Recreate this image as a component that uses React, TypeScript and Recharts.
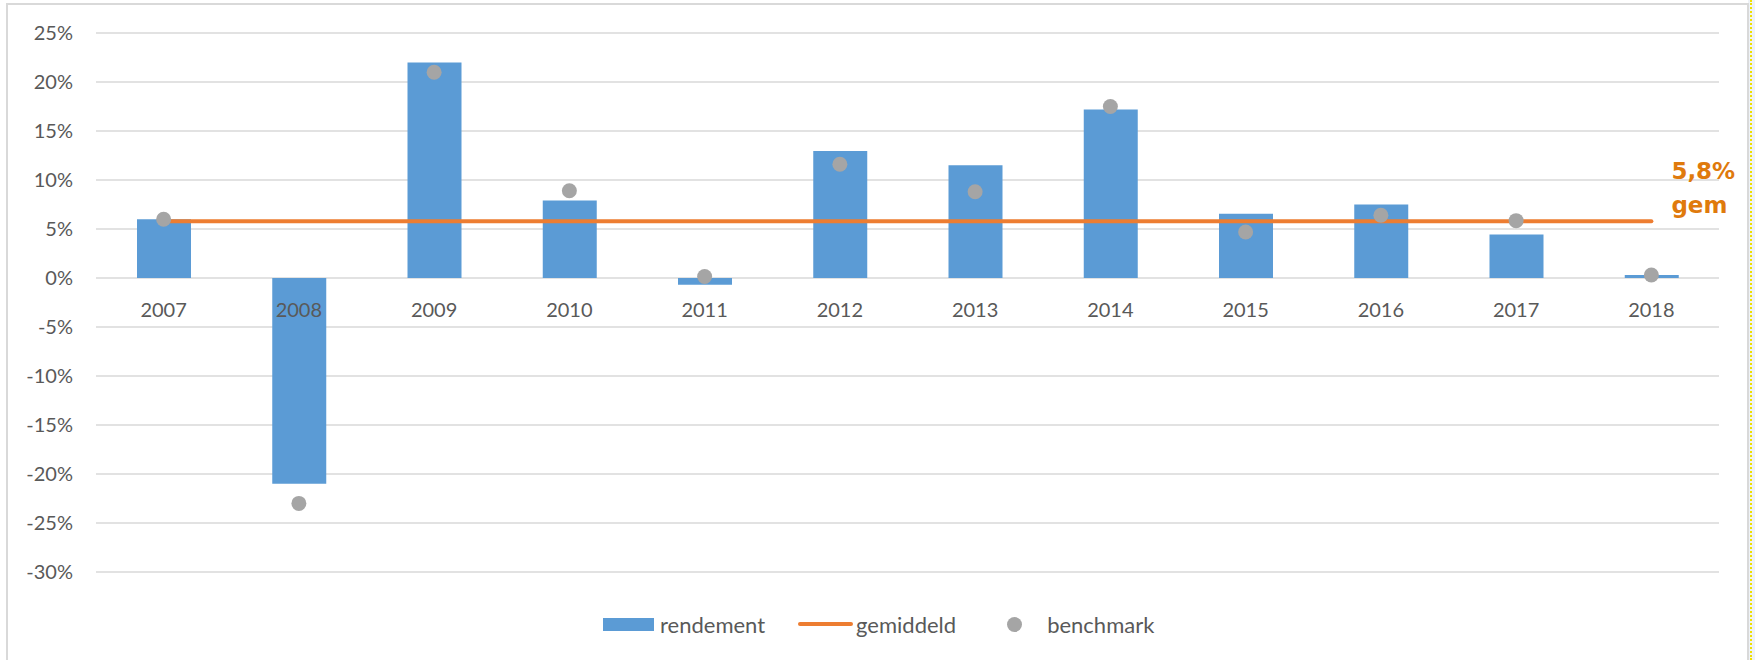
import { ComposedChart, Bar, Line, XAxis, YAxis, CartesianGrid, Legend, LabelList } from 'recharts'

// values (percent)
const years = ['2007', '2008', '2009', '2010', '2011', '2012', '2013', '2014', '2015', '2016', '2017', '2018']
const rendement = [6.0, -21.0, 22.0, 7.9, -0.7, 12.95, 11.5, 17.2, 6.55, 7.5, 4.45, 0.3]
const benchmark = [6.0, -23.0, 21.0, 8.9, 0.15, 11.6, 8.8, 17.5, 4.7, 6.4, 5.85, 0.3]
const gemiddeld = [5.8, 5.8, 5.8, 5.8, 5.8, 5.8, 5.8, 5.8, 5.8, 5.8, 5.8, 5.8]
const yTicks = [-30, -25, -20, -15, -10, -5, 0, 5, 10, 15, 20, 25]
const averageLabel = ['5,8%', 'gem']

const Y_MIN = -30
const Y_MAX = 25
const WIDTH = 1755
const HEIGHT = 660
const X_AXIS_H = 30
const MARGIN = { top: 33, right: 36, bottom: 88 - X_AXIS_H, left: 0 }
const PLOT_H = HEIGHT - MARGIN.top - MARGIN.bottom - X_AXIS_H

const FONT = 'Lato, "Open Sans", sans-serif'
const TEXT = '#595959'
const BLUE = '#5B9BD5'
const ORANGE = '#ED7D31'
const GRAY = '#A5A5A5'

const data = years.map((year, i) => ({
  year,
  rendement: rendement[i],
  benchmark: benchmark[i],
  gemiddeld: gemiddeld[i],
}))

// Excel puts the category labels just under the 0% line, not at the bottom
const zeroFromBottom = (PLOT_H * (0 - Y_MIN)) / (Y_MAX - Y_MIN)

const renderYearTick = (props: any) => {
  const { x, y, payload } = props
  return (
    <text x={x} y={y - zeroFromBottom + 39} textAnchor="middle" fill={TEXT} fontSize={20} fontFamily={FONT}>
      {payload.value}
    </text>
  )
}

const AverageLabel = (props: any) => {
  const { x, y, index } = props
  if (index !== years.length - 1) return null
  return (
    <text fill="#DF7A0C" fontSize={23} fontWeight={700} fontFamily='"DejaVu Sans", sans-serif'>
      <tspan x={x + 20} y={y - 42}>{averageLabel[0]}</tspan>
      <tspan x={x + 20} y={y - 8}>{averageLabel[1]}</tspan>
    </text>
  )
}

const LegendContent = () => (
  <div style={{ display: 'flex', alignItems: 'center', fontFamily: FONT, fontSize: 22, color: TEXT, height: 24 }}>
    <span style={{ width: 51, height: 13, background: BLUE, marginRight: 6 }} />
    <span>rendement</span>
    <span style={{ width: 55, height: 4, borderRadius: 2, background: ORANGE, marginLeft: 33, marginRight: 3 }} />
    <span>gemiddeld</span>
    <span style={{ width: 15, height: 15, borderRadius: '50%', background: GRAY, marginLeft: 51, marginRight: 25 }} />
    <span>benchmark</span>
  </div>
)

export default function App() {
  return (
    <div style={{ position: 'absolute', left: 0, top: 0, width: WIDTH, height: HEIGHT, overflow: 'hidden', background: '#fff' }}>
      <div style={{ position: 'absolute', left: 1748, top: 0, width: 7, height: HEIGHT, background: '#EEF2F7' }} />
      <div style={{ position: 'absolute', left: 1750, top: 0, height: HEIGHT, borderLeft: '2px dotted #EFE000' }} />
      <div style={{ position: 'absolute', left: 6, top: 3, width: 1739, height: 720, border: '2px solid #D9D9D9' }} />
      <div style={{ position: 'absolute', left: 0, top: 0 }}>
        <ComposedChart width={WIDTH} height={HEIGHT} data={data} margin={MARGIN}>
          <CartesianGrid vertical={false} stroke="#D9D9D9" strokeWidth={1.5} />
          <YAxis
            type="number"
            domain={[Y_MIN, Y_MAX]}
            ticks={yTicks}
            width={96}
            axisLine={false}
            tickLine={false}
            tickSize={0}
            tickMargin={23}
            interval={0}
            tickFormatter={(v: number) => `${v}%`}
            tick={{ fill: TEXT, fontSize: 20, fontFamily: FONT }}
          />
          <Bar dataKey="rendement" fill={BLUE} barSize={54} isAnimationActive={false} />
          <Line
            dataKey="gemiddeld"
            stroke={ORANGE}
            strokeWidth={4}
            strokeLinecap="round"
            dot={false}
            activeDot={false}
            isAnimationActive={false}
          >
            <LabelList dataKey="gemiddeld" content={AverageLabel} />
          </Line>
          <Line
            dataKey="benchmark"
            stroke="none"
            dot={{ r: 7.5, fill: GRAY, stroke: 'none' }}
            activeDot={false}
            isAnimationActive={false}
          />
          <XAxis
            dataKey="year"
            height={X_AXIS_H}
            axisLine={false}
            tickLine={false}
            tickSize={0}
            tickMargin={0}
            tick={renderYearTick}
            interval={0}
          />
          <Legend
            verticalAlign="middle"
            align="center"
            content={<LegendContent />}
            wrapperStyle={{ top: 612, left: 603, width: 'auto' }}
          />
        </ComposedChart>
      </div>
    </div>
  )
}
